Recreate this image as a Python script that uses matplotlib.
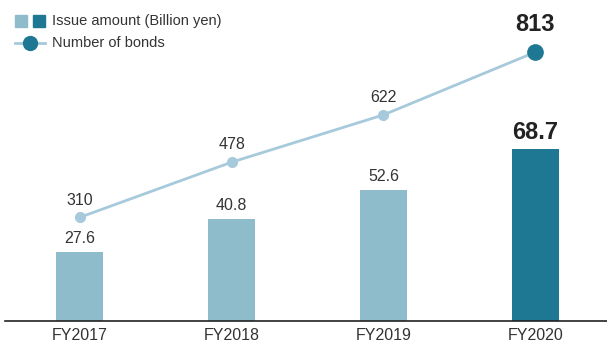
import numpy as np
import matplotlib.pyplot as plt
from matplotlib.patches import Rectangle
from matplotlib.lines import Line2D

plt.rcParams['font.family'] = ['Liberation Sans', 'DejaVu Sans']

years = ["FY2017", "FY2018", "FY2019", "FY2020"]
issue_amount = [27.6, 40.8, 52.6, 68.7]
num_bonds = [310, 478, 622, 813]

light = "#8fbccb"
dark = "#1f7893"
line_col = "#a6cadb"
txt = "#333333"

W, H = 607, 340
fig = plt.figure(figsize=(W / 100, H / 100), dpi=100)
ax = fig.add_axes([0, 19 / H, 1, 1 - 19 / H])
x = np.arange(len(years))

cols = [light] * (len(years) - 1) + [dark]
ax.bar(x, issue_amount, width=0.31, color=cols, zorder=2)
ax.set_xlim(-0.527, 3.473)
ax.set_ylim(0, 321 / 2.5)

for i, v in enumerate(issue_amount):
    last = i == len(years) - 1
    ax.annotate(f"{v}", (x[i], v), xytext=(0, 4), textcoords="offset points",
                ha="center", va="bottom",
                fontsize=17 if last else 11.5,
                fontweight="bold" if last else "normal",
                color="#222222" if last else txt)

# line on a second axis
ax2 = ax.twinx()
ax2.set_ylim(-6, 972)
ax2.plot(x, num_bonds, color=line_col, lw=2, zorder=3)
ax2.plot(x[:-1], num_bonds[:-1], "o", color=line_col, ms=7, zorder=4)
ax2.plot(x[-1:], num_bonds[-1:], "o", color=dark, ms=11, zorder=4)
for i, v in enumerate(num_bonds):
    last = i == len(years) - 1
    ax2.annotate(f"{v}", (x[i], v), xytext=(0, 12 if last else 7), textcoords="offset points",
                 ha="center", va="bottom",
                 fontsize=17 if last else 11.5,
                 fontweight="bold" if last else "normal",
                 color="#222222" if last else txt)

for a in (ax, ax2):
    for s in ["top", "right", "left"]:
        a.spines[s].set_visible(False)
    a.set_yticks([])
ax2.spines["bottom"].set_visible(False)
ax.spines["bottom"].set_color("#222222")
ax.spines["bottom"].set_linewidth(1.2)
ax.spines["bottom"].set_bounds(-0.495, 3.473)

ax.set_xticks(x)
ax.set_xticklabels(years, fontsize=11.5, color=txt)
ax.tick_params(axis="x", length=0, pad=5)

# legend
def px(xp, yp):
    return xp / W, 1 - yp / H

fig.patches.append(Rectangle(px(15, 27), 12 / W, 12 / H, color=light, transform=fig.transFigure))
fig.patches.append(Rectangle(px(33, 27), 12 / W, 12 / H, color=dark, transform=fig.transFigure))
fig.text(*px(52, 21), "Issue amount (Billion yen)", fontsize=10.5, color=txt, va="center")
(lx0, ly), (lx1, _) = px(15, 43), px(45, 43)
fig.lines.append(Line2D([lx0, lx1], [ly, ly], color=line_col, lw=2, transform=fig.transFigure))
fig.lines.append(Line2D([px(30, 0)[0]], [ly], marker="o", ms=10, color=dark, transform=fig.transFigure))
fig.text(*px(52, 43), "Number of bonds", fontsize=10.5, color=txt, va="center")

fig.savefig("out.png", dpi=100)
